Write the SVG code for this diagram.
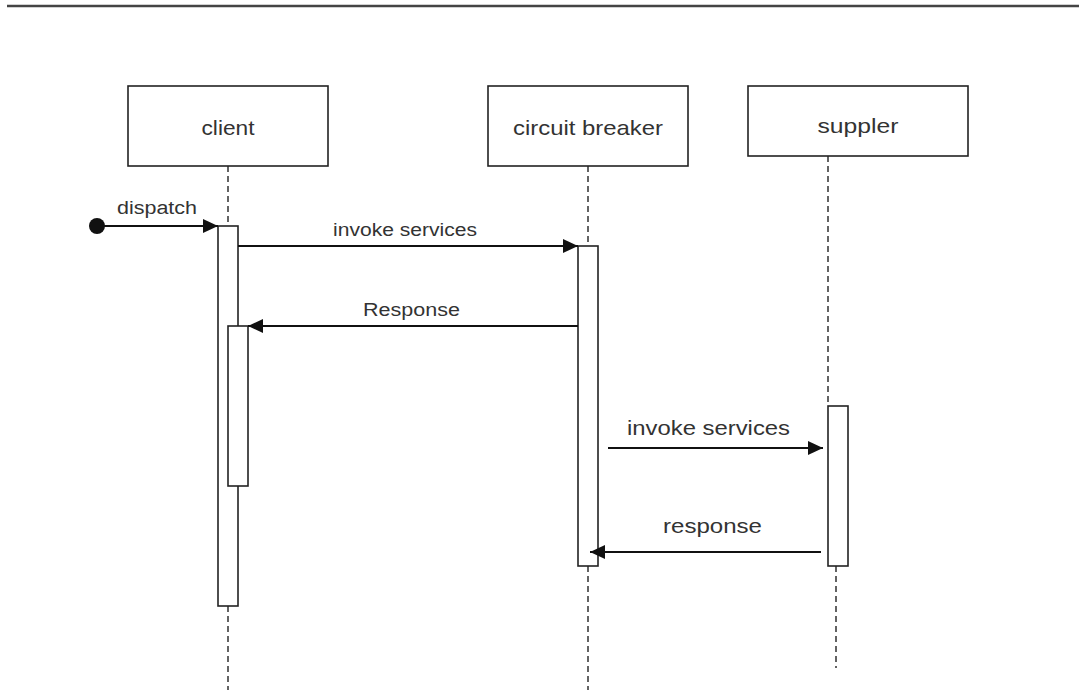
<svg xmlns="http://www.w3.org/2000/svg" width="1079" height="690" viewBox="0 0 1079 690">
  <style>
    .box { fill: #ffffff; stroke: #222222; stroke-width: 1.6; }
    .act { fill: #ffffff; stroke: #222222; stroke-width: 1.6; }
    .life { stroke: #222222; stroke-width: 1.4; stroke-dasharray: 6 4; fill: none; }
    .msg { stroke: #111111; stroke-width: 1.8; fill: none; }
    .lbl { font-family: "Liberation Sans", Arial, sans-serif; fill: #333333; }
  </style>
  <defs>
    <marker id="arrow" markerUnits="userSpaceOnUse" markerWidth="16" markerHeight="14" refX="15" refY="7" orient="auto">
      <path d="M0,0 L15,7 L0,14 Z" fill="#111111"/>
    </marker>
  </defs>

  <rect x="0" y="0" width="1079" height="690" fill="#ffffff"/>
  <!-- top rule -->
  <line x1="7" y1="6" x2="1079" y2="6" stroke="#444444" stroke-width="2.5"/>

  <!-- lifelines -->
  <g id="lifelines">
    <line class="life" x1="228" y1="166" x2="228" y2="226"/>
    <line class="life" x1="228" y1="606" x2="228" y2="690"/>
    <line class="life" x1="588" y1="166" x2="588" y2="246"/>
    <line class="life" x1="588" y1="566" x2="588" y2="690"/>
    <line class="life" x1="828" y1="156" x2="828" y2="406"/>
    <line class="life" x1="836" y1="566" x2="836" y2="668"/>
  </g>

  <g id="client">
    <rect class="box" x="128" y="86" width="200" height="80"/>
    <text class="lbl" x="228" y="135" font-size="21" text-anchor="middle" textLength="53" lengthAdjust="spacingAndGlyphs">client</text>
    <rect class="act" x="218" y="226" width="20" height="380"/>
    <rect class="act" x="228" y="326" width="20" height="160"/>
  </g>

  <g id="circuit-breaker">
    <rect class="box" x="488" y="86" width="200" height="80"/>
    <text class="lbl" x="588" y="135" font-size="21" text-anchor="middle" textLength="150" lengthAdjust="spacingAndGlyphs">circuit breaker</text>
    <rect class="act" x="578" y="246" width="20" height="320"/>
  </g>

  <g id="suppler">
    <rect class="box" x="748" y="86" width="220" height="70"/>
    <text class="lbl" x="858" y="133" font-size="21" text-anchor="middle" textLength="81" lengthAdjust="spacingAndGlyphs">suppler</text>
    <rect class="act" x="828" y="406" width="20" height="160"/>
  </g>

  <!-- messages -->
  <g id="connectors">
    <circle cx="97" cy="226" r="8" fill="#111111"/>
    <line class="msg" x1="97" y1="226" x2="218" y2="226" marker-end="url(#arrow)"/>
    <text class="lbl" x="117" y="214" font-size="18" textLength="80" lengthAdjust="spacingAndGlyphs">dispatch</text>

    <line class="msg" x1="238" y1="246" x2="578" y2="246" marker-end="url(#arrow)"/>
    <text class="lbl" x="333" y="236" font-size="18" textLength="144" lengthAdjust="spacingAndGlyphs">invoke services</text>

    <line class="msg" x1="578" y1="326" x2="248" y2="326" marker-end="url(#arrow)"/>
    <text class="lbl" x="363" y="316" font-size="18" textLength="97" lengthAdjust="spacingAndGlyphs">Response</text>

    <line class="msg" x1="608" y1="448" x2="823" y2="448" marker-end="url(#arrow)"/>
    <text class="lbl" x="627" y="435" font-size="21" textLength="163" lengthAdjust="spacingAndGlyphs">invoke services</text>

    <line class="msg" x1="821" y1="552" x2="590" y2="552" marker-end="url(#arrow)"/>
    <text class="lbl" x="663" y="533" font-size="21" textLength="99" lengthAdjust="spacingAndGlyphs">response</text>
  </g>
</svg>
